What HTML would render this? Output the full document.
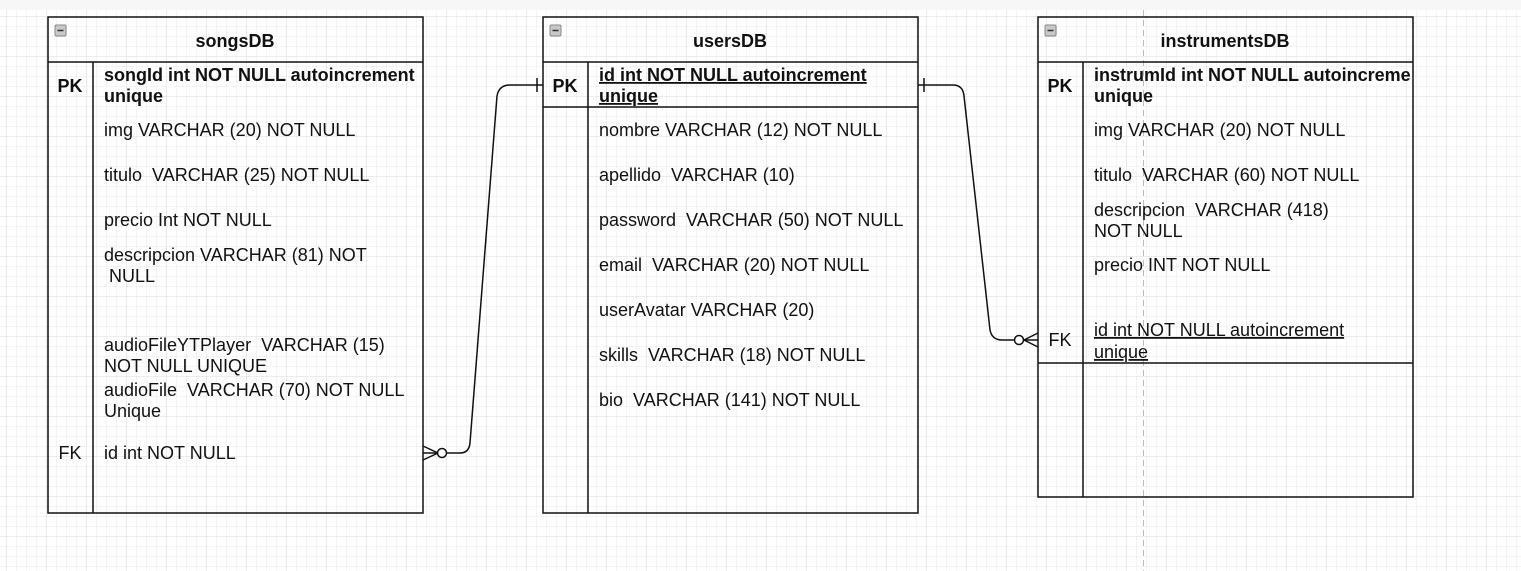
<!DOCTYPE html>
<html><head><meta charset="utf-8"><style>
html,body{margin:0;padding:0;background:#fff}
svg{display:block}
text{font-family:"Liberation Sans",Arial,sans-serif;font-size:18px;fill:#111;white-space:pre}
.b{font-weight:bold}
.u{text-decoration:underline}
</style></head><body>
<svg width="1521" height="571" viewBox="0 0 1521 571" xmlns="http://www.w3.org/2000/svg" xml:space="preserve">
<defs>
<pattern id="g" x="7" y="7" width="10" height="10" patternUnits="userSpaceOnUse">
<path d="M10 0V10M0 10H10" stroke="#e8e8e8" stroke-width="1" fill="none"/>
</pattern>
<pattern id="G" x="7" y="17" width="40" height="40" patternUnits="userSpaceOnUse">
<path d="M40 0V40M0 40H40" stroke="#d8d8d8" stroke-width="1" fill="none"/>
</pattern>
</defs>
<rect width="1521" height="571" fill="url(#g)"/>
<rect width="1521" height="571" fill="url(#G)"/>
<rect width="1521" height="10" fill="#f7f7f7"/>
<line x1="1143.5" y1="10" x2="1143.5" y2="571" stroke="#bbb" stroke-dasharray="6,4"/>

<g fill="none" stroke="#111" stroke-width="1.5">
<rect x="48" y="17" width="375" height="496"/>
<line x1="48" y1="62" x2="423" y2="62"/>
<line x1="93" y1="62" x2="93" y2="513"/>
<rect x="543" y="17" width="375" height="496"/>
<line x1="543" y1="62" x2="918" y2="62"/>
<line x1="543" y1="107" x2="918" y2="107"/>
<line x1="588" y1="62" x2="588" y2="513"/>
<rect x="1038" y="17" width="375" height="480"/>
<line x1="1038" y1="62" x2="1413" y2="62"/>
<line x1="1038" y1="363" x2="1413" y2="363"/>
<line x1="1083" y1="62" x2="1083" y2="497"/>
<path d="M423 453 H460 Q469 453 470 443 L497 96 Q499 85 510 85 H543"/>
<line x1="537" y1="78" x2="537" y2="92"/>
<path d="M423 446 L438 453 L423 460"/>
<path d="M918 85 H953 Q963 85 964 96 L990 330 Q992 340 1002 340 H1038"/>
<line x1="924" y1="78" x2="924" y2="92"/>
<path d="M1038 333 L1024 340 L1038 347"/>
</g>
<circle cx="442" cy="453" r="4.5" fill="#fff" stroke="#111" stroke-width="1.5"/>
<circle cx="1019" cy="340" r="4.5" fill="#fff" stroke="#111" stroke-width="1.5"/>

<g>
<rect x="55" y="25" width="11" height="11" rx="1.5" fill="#c8c8c8" stroke="#888"/><line x1="57.5" y1="30.5" x2="63.5" y2="30.5" stroke="#333" stroke-width="1.5"/>
<rect x="550" y="25" width="11" height="11" rx="1.5" fill="#c8c8c8" stroke="#888"/><line x1="552.5" y1="30.5" x2="558.5" y2="30.5" stroke="#333" stroke-width="1.5"/>
<rect x="1045" y="25" width="11" height="11" rx="1.5" fill="#c8c8c8" stroke="#888"/><line x1="1047.5" y1="30.5" x2="1053.5" y2="30.5" stroke="#333" stroke-width="1.5"/>
</g>

<text x="235" y="47" class="b" text-anchor="middle">songsDB</text>
<text x="70" y="92" class="b" text-anchor="middle">PK</text>
<text x="104" y="81" class="b">songId int NOT NULL autoincrement</text>
<text x="104" y="102" class="b">unique</text>
<text x="104" y="136">img VARCHAR (20) NOT NULL</text>
<text x="104" y="181">titulo  VARCHAR (25) NOT NULL</text>
<text x="104" y="226">precio Int NOT NULL</text>
<text x="104" y="261">descripcion VARCHAR (81) NOT</text>
<text x="104" y="282"> NULL</text>
<text x="104" y="351">audioFileYTPlayer  VARCHAR (15)</text>
<text x="104" y="372">NOT NULL UNIQUE</text>
<text x="104" y="396">audioFile  VARCHAR (70) NOT NULL</text>
<text x="104" y="417">Unique</text>
<text x="70" y="459" text-anchor="middle">FK</text>
<text x="104" y="459">id int NOT NULL</text>

<text x="730" y="47" class="b" text-anchor="middle">usersDB</text>
<text x="565" y="92" class="b" text-anchor="middle">PK</text>
<text x="599" y="81" class="b u">id int NOT NULL autoincrement</text>
<text x="599" y="102" class="b u">unique</text>
<text x="599" y="136">nombre VARCHAR (12) NOT NULL</text>
<text x="599" y="181">apellido  VARCHAR (10)</text>
<text x="599" y="226">password  VARCHAR (50) NOT NULL</text>
<text x="599" y="271">email  VARCHAR (20) NOT NULL</text>
<text x="599" y="316">userAvatar VARCHAR (20)</text>
<text x="599" y="361">skills  VARCHAR (18) NOT NULL</text>
<text x="599" y="406">bio  VARCHAR (141) NOT NULL</text>

<text x="1225" y="47" class="b" text-anchor="middle">instrumentsDB</text>
<text x="1060" y="92" class="b" text-anchor="middle">PK</text>
<svg x="1094" y="60" width="318" height="60"><text x="0" y="21" class="b">instrumId int NOT NULL autoincrement</text><text x="0" y="42" class="b">unique</text></svg>
<text x="1094" y="136">img VARCHAR (20) NOT NULL</text>
<text x="1094" y="181">titulo  VARCHAR (60) NOT NULL</text>
<text x="1094" y="216">descripcion  VARCHAR (418)</text>
<text x="1094" y="237">NOT NULL</text>
<text x="1094" y="271">precio INT NOT NULL</text>
<text x="1060" y="346" text-anchor="middle">FK</text>
<text x="1094" y="336" class="u">id int NOT NULL autoincrement</text>
<text x="1094" y="358" class="u">unique</text>
</svg>
</body></html>
